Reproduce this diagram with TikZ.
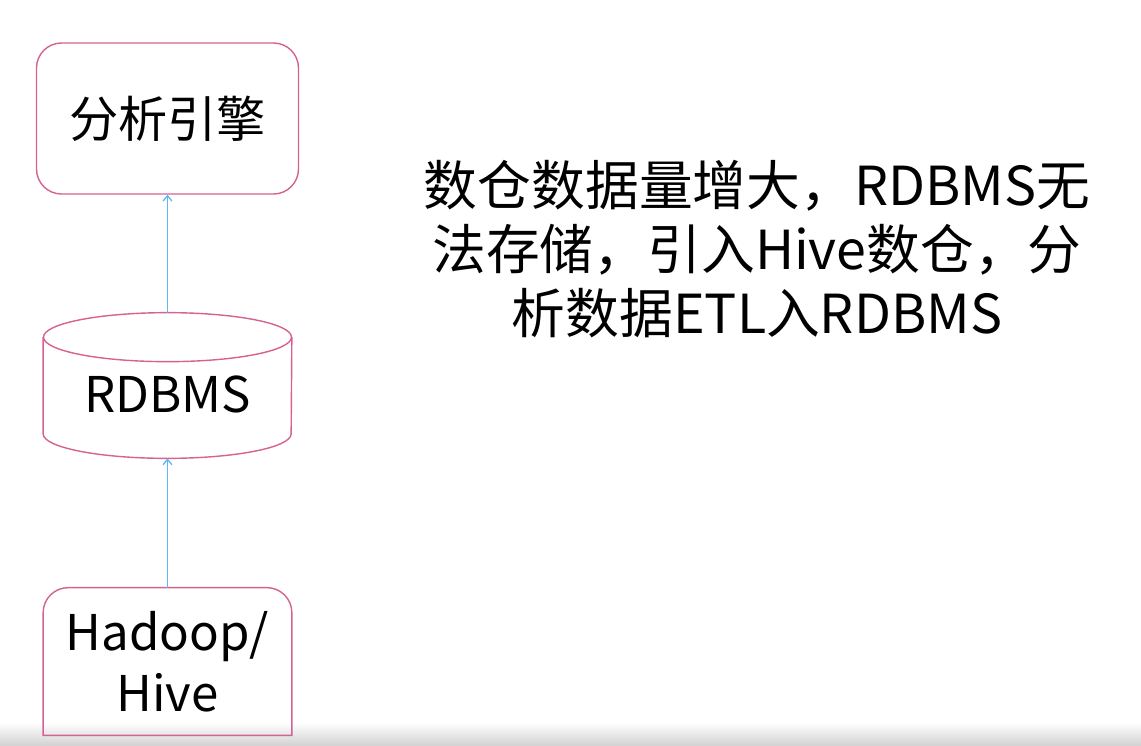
\documentclass[tikz,border=0pt]{standalone}
\usepackage{fontspec}
\newfontfamily\cjk{Noto Sans CJK SC}
\usetikzlibrary{arrows.meta, positioning}
\definecolor{boxpink}{RGB}{214,98,146}
\definecolor{flowblue}{RGB}{95,182,240}

\begin{document}
\begin{tikzpicture}[
    box/.style={draw=boxpink, line width=0.8pt},
    flow/.style={flowblue, line width=0.75pt, -{Straight Barb[length=3pt, width=5pt]}},
    txt/.style={font=\cjk\fontsize{28}{34.6}\selectfont, align=center, inner sep=0pt}
  ]
  \useasboundingbox (0, 0) rectangle (22.82, -14.92);
  % Bottom shadow band
  \shade[top color=white, bottom color=black!18] (0, -14.45) rectangle (22.82, -14.92);

  % Nodes
  \node[box, txt, rounded corners=0.5cm, minimum width=5.24cm, minimum height=3.02cm] (engine) at (3.35, -2.37) {分析引擎};
  \node[txt, anchor=base, text height=1.98cm, text depth=0.92cm, minimum width=4.96cm] (rdbms) at (3.35, -8.24) {RDBMS};
  \node[txt, minimum width=4.96cm, minimum height=2.94cm] (hadoop) at (3.35, -13.23) {Hadoop/\\Hive};

  % Cylinder
  \draw[box] ([yshift=-0.49cm]rdbms.north west) -- ([yshift=0.49cm]rdbms.south west)
    arc[start angle=180, end angle=360, x radius=2.48cm, y radius=0.49cm]
    -- ([yshift=-0.49cm]rdbms.north east);
  \draw[box] ([yshift=-0.49cm]rdbms.north) ellipse[x radius=2.48cm, y radius=0.49cm];

  % Box with rounded top
  \draw[box] (hadoop.south west) [rounded corners=0.5cm] -- (hadoop.north west) -- (hadoop.north east) [sharp corners] -- (hadoop.south east) -- cycle;

  % Flow
  \draw[flow] (hadoop) -- (rdbms);
  \draw[flow] (rdbms) -- (engine);

  % Note
  \node[font=\cjk\fontsize{30.6}{36.3}\selectfont, align=center] (note) at (15.14, -4.98) {数仓数据量增大，RDBMS无\\法存储，引入Hive数仓，分\\析数据ETL入RDBMS};
\end{tikzpicture}
\end{document}
